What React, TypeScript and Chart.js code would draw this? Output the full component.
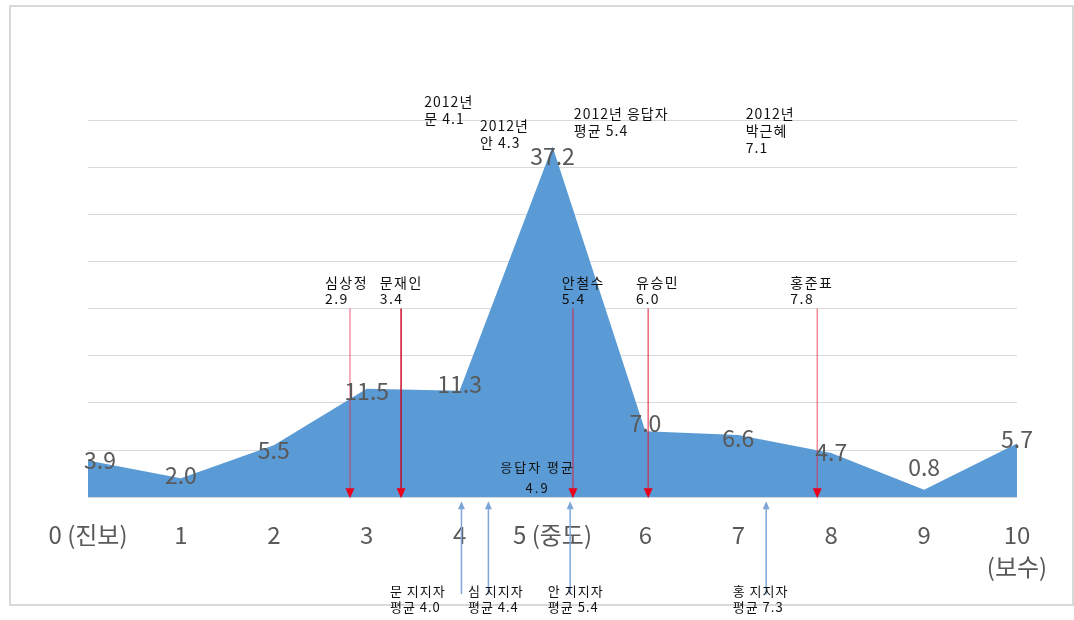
import React, { useEffect, useRef } from "react";
import { Chart, registerables } from "chart.js";
Chart.register(...registerables);

// ---- data ----
const categories: (string | string[])[] = ["0 (진보)", "1", "2", "3", "4", "5 (중도)", "6", "7", "8", "9", ["10", "(보수)"]];
const shares = [3.9, 2.0, 5.5, 11.5, 11.3, 37.2, 7.0, 6.6, 4.7, 0.8, 5.7];

const candidateNames = ["심상정", "문재인", "안철수", "유승민", "홍준표"];
const candidateScores = ["2.9", "3.4", "5.4", "6.0", "7.8"];
const candidateMarks = [2.82, 3.37, 5.22, 6.03, 7.85];
const candidateLineTop = 20;

const supporterNames = ["문 지지자", "심 지지자", "안 지지자", "홍 지지자"];
const supporterMeans = ["평균 4.0", "평균 4.4", "평균 5.4", "평균 7.3"];
const supporterMarks = [4.02, 4.31, 5.19, 7.3];

const notes2012 = [
  ["2012년", "문 4.1"],
  ["2012년", "안 4.3"],
  ["2012년 응답자", "평균 5.4"],
  ["2012년", "박근혜", "7.1"],
];
const respondentMean = ["응답자 평균", "4.9"];

// ---- layout / style (not data) ----
const labelOffsets = [[12, 0], [0, -3], [0, 5], [0, 3], [0, -6], [0, 10], [0, -8], [0, 3], [0, -1], [0, -22], [0, -4]];
const candidateLabelX = [2.55, 3.14, 5.1, 5.9, 7.56];
const candidateColors = ["rgba(235,40,70,0.5)", "rgba(200,0,30,0.95)", "rgba(225,20,60,0.6)", "rgba(230,20,50,0.65)", "rgba(235,40,70,0.55)"];
const supporterLabelX = [3.25, 4.09, 4.95, 6.94];
const notePos = [[3.62, 41.9], [4.22, 39.4], [5.23, 40.7], [7.08, 40.7]];
const meanPos = [4.84, 3.2];
const KFONT = '"Noto Sans CJK KR", "Noto Sans", sans-serif';

const annotationPlugin = {
  id: "annotations",
  afterDatasetsDraw(chart: any) {
    const { ctx, scales, chartArea } = chart;
    const xs = scales.x;
    const ys = scales.y;
    const meta = chart.getDatasetMeta(0);
    ctx.save();

    // red candidate lines
    candidateMarks.forEach((v, i) => {
      const x = xs.getPixelForValue(v);
      const top = ys.getPixelForValue(candidateLineTop);
      const bottom = chartArea.bottom;
      ctx.strokeStyle = candidateColors[i];
      ctx.lineWidth = 1.5;
      ctx.beginPath();
      ctx.moveTo(x, top);
      ctx.lineTo(x, bottom - 7);
      ctx.stroke();
      ctx.fillStyle = "#e8001c";
      ctx.beginPath();
      ctx.moveTo(x - 4.5, bottom - 9);
      ctx.lineTo(x + 4.5, bottom - 9);
      ctx.lineTo(x, bottom + 1);
      ctx.closePath();
      ctx.fill();
      ctx.fillStyle = "#111";
      ctx.font = `14px ${KFONT}`;
      ctx.letterSpacing = "1.5px";
      ctx.textAlign = "left";
      ctx.textBaseline = "middle";
      const lx = xs.getPixelForValue(candidateLabelX[i]);
      ctx.fillText(candidateNames[i], lx, ys.getPixelForValue(22.7));
      ctx.fillText(candidateScores[i], lx, ys.getPixelForValue(21.0));
    });

    // blue supporter arrows
    supporterMarks.forEach((v, i) => {
      const x = xs.getPixelForValue(v);
      const b = chartArea.bottom;
      ctx.strokeStyle = "#7ea7d8";
      ctx.lineWidth = 1.5;
      ctx.beginPath();
      ctx.moveTo(x, b + 97);
      ctx.lineTo(x, b + 10);
      ctx.stroke();
      ctx.fillStyle = "#7ea7d8";
      ctx.beginPath();
      ctx.moveTo(x - 3.5, b + 12);
      ctx.lineTo(x + 3.5, b + 12);
      ctx.lineTo(x, b + 4);
      ctx.closePath();
      ctx.fill();
      ctx.fillStyle = "#111";
      ctx.font = `13px ${KFONT}`;
      ctx.letterSpacing = "1px";
      ctx.textAlign = "left";
      ctx.textBaseline = "middle";
      const lx = xs.getPixelForValue(supporterLabelX[i]);
      ctx.fillText(supporterNames[i], lx, b + 94);
      ctx.fillText(supporterMeans[i], lx, b + 110);
    });

    // 2012 notes
    ctx.font = `14px ${KFONT}`;
    ctx.letterSpacing = "1px";
    ctx.fillStyle = "#111";
    ctx.textAlign = "left";
    notes2012.forEach((lines, i) => {
      const x = xs.getPixelForValue(notePos[i][0]);
      const y = ys.getPixelForValue(notePos[i][1]);
      lines.forEach((t, k) => ctx.fillText(t, x, y + k * 17));
    });

    // respondent mean
    ctx.font = `13px ${KFONT}`;
    ctx.letterSpacing = "2px";
    ctx.textAlign = "center";
    const mx = xs.getPixelForValue(meanPos[0]);
    const my = ys.getPixelForValue(meanPos[1]);
    respondentMean.forEach((t, k) => ctx.fillText(t, mx, my + k * 21));

    // value labels
    ctx.letterSpacing = "0px";
    ctx.font = `23px ${KFONT}`;
    ctx.fillStyle = "#595959";
    ctx.textAlign = "center";
    meta.data.forEach((pt: any, i: number) => {
      ctx.fillText(shares[i].toFixed(1), pt.x + labelOffsets[i][0], pt.y + labelOffsets[i][1]);
    });

    ctx.restore();
  },
};

export default function App() {
  const ref = useRef<HTMLCanvasElement>(null);
  useEffect(() => {
    if (!ref.current) return;
    const chart = new Chart(ref.current, {
      type: "line",
      data: {
        labels: categories as any,
        datasets: [
          {
            data: shares,
            fill: "origin",
            backgroundColor: "#5b9bd5",
            borderColor: "#5b9bd5",
            borderWidth: 0,
            pointRadius: 0,
            tension: 0,
          },
        ],
      },
      options: {
        animation: false,
        responsive: false,
        layout: { padding: { left: 88, right: 57, top: 120, bottom: 16 } },
        plugins: { legend: { display: false }, tooltip: { enabled: false } },
        scales: {
          x: {
            offset: false,
            grid: { display: false, drawTicks: false },
            border: { display: false },
            ticks: {
              color: "#595959",
              font: { size: 24, family: KFONT, lineHeight: 1.35 },
              padding: 21,
              maxRotation: 0,
              autoSkip: false,
            },
          },
          y: {
            min: 0,
            max: 40,
            grid: { color: "#d9d9d9", drawTicks: false, lineWidth: 1 },
            border: { display: false },
            ticks: { display: false, stepSize: 5 },
          },
        },
      },
      plugins: [annotationPlugin],
    });
    return () => chart.destroy();
  }, []);
  return (
    <div style={{ position: "fixed", left: 0, top: 0, width: 1074, height: 620, background: "#fff" }}>
      <div
        style={{
          position: "absolute",
          left: 9,
          top: 5,
          width: 1061,
          height: 597,
          border: "2px solid #d9d9d9",
        }}
      />
      <canvas ref={ref} width={1074} height={620} style={{ position: "absolute", left: 0, top: 0 }} />
    </div>
  );
}
